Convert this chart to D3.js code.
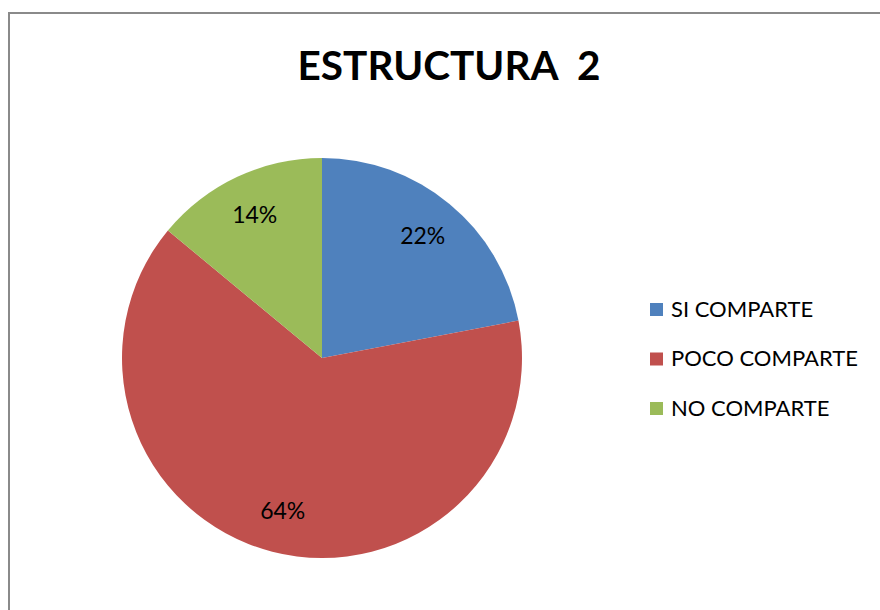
<!DOCTYPE html>
<html>
<head>
<meta charset="utf-8">
<script src="https://cdn.jsdelivr.net/npm/d3@7"></script>
<style>
  html, body { margin: 0; background: #fff; overflow: hidden; }
  svg { display: block; font-family: Lato, "Open Sans", sans-serif; }
</style>
</head>
<body>
<div id="chart"></div>
<script>
// chart data
var categories = ["SI COMPARTE", "POCO COMPARTE", "NO COMPARTE"];
var values = [22, 64, 14];
var colors = ["#4F81BD", "#C0504D", "#9BBB59"];
var title = "ESTRUCTURA\u00a0\u00a02";

var width = 880, height = 610;
var center = {x: 322, y: 358}, radius = 200;

var svg = d3.select("#chart").append("svg")
    .attr("width", width)
    .attr("height", height);

// chart frame: only top and left edges are in the picture
svg.append("path")
    .attr("d", "M9," + height + "V13H" + width)
    .attr("fill", "none")
    .attr("stroke", "#8a8a8a")
    .attr("stroke-width", 2);

svg.append("text")
    .attr("x", 449).attr("y", 80)
    .attr("text-anchor", "middle")
    .attr("font-size", 40.5)
    .attr("font-weight", "bold")
    .attr("fill", "#000")
    .text(title);

var pie = d3.pie().sort(null).value(function(d) { return d; });
var arcs = pie(values);
var total = d3.sum(values);

var arc = d3.arc().innerRadius(0).outerRadius(radius);
var labelArc = d3.arc().innerRadius(158).outerRadius(158);

var g = svg.append("g")
    .attr("transform", "translate(" + center.x + "," + center.y + ")");

g.selectAll("path")
    .data(arcs)
    .enter().append("path")
    .attr("d", arc)
    .attr("fill", function(d, i) { return colors[i]; });

g.selectAll("text.lbl")
    .data(arcs)
    .enter().append("text")
    .attr("class", "lbl")
    .attr("transform", function(d) { return "translate(" + labelArc.centroid(d) + ")"; })
    .attr("text-anchor", "middle")
    .attr("dy", "0.35em")
    .attr("font-size", 23)
    .attr("fill", "#000")
    .text(function(d) { return Math.round(d.value / total * 100) + "%"; });

// legend
var legendY = d3.scalePoint().domain(categories).range([309, 408]);

var legend = svg.selectAll("g.legend")
    .data(categories)
    .enter().append("g")
    .attr("class", "legend")
    .attr("transform", function(d) { return "translate(650," + legendY(d) + ")"; });

legend.append("rect")
    .attr("x", 0).attr("y", -6)
    .attr("width", 13).attr("height", 13)
    .attr("fill", function(d, i) { return colors[i]; });

legend.append("text")
    .attr("x", 21).attr("y", 0)
    .attr("dy", "0.36em")
    .attr("font-size", 22)
    .attr("fill", "#000")
    .text(function(d) { return d; });
</script>
</body>
</html>
